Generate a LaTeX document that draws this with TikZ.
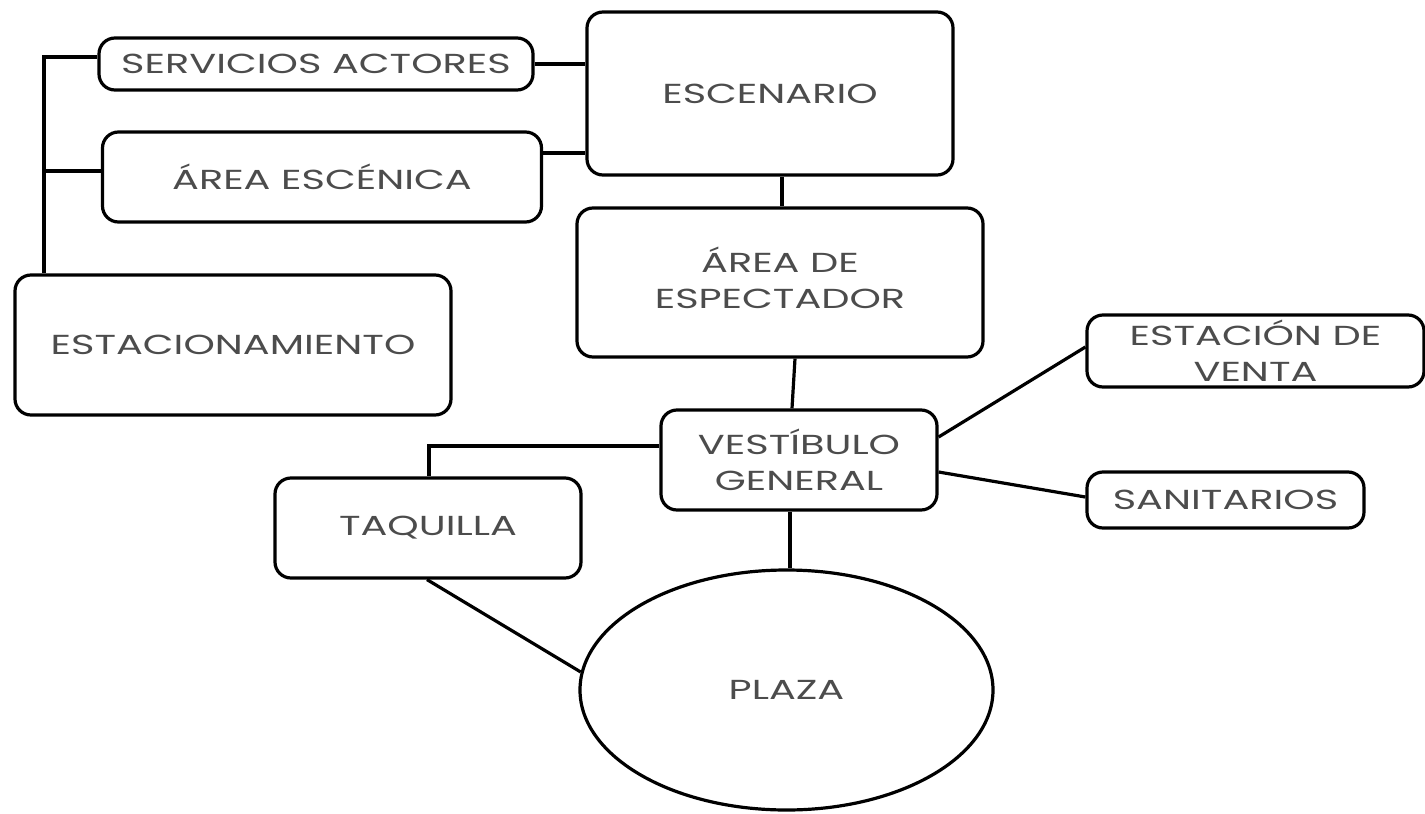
\documentclass[tikz,border=0pt]{standalone}
\usepackage{fontspec}
\setmainfont{Poppins}[FakeStretch=1.45]
\usetikzlibrary{shapes.geometric}
\tikzset{
  box/.style={draw, line width=3.2pt, rounded corners=16pt, align=center, inner sep=0pt, text=black!70, font=\fontsize{27.5}{36}\selectfont},
  link/.style={line width=3.2pt},
}
\begin{document}
\begin{tikzpicture}[x=1pt,y=-1pt]
\useasboundingbox (0,0) rectangle (1425,814);
\node[box, minimum width=434pt, minimum height=52pt] (serv) at (316,64) {SERVICIOS ACTORES};
\node[box, minimum width=439pt, minimum height=90pt] (aesc) at (322,177) {ÁREA ESCÉNICA};
\node[box, minimum width=366pt, minimum height=163pt] (esc) at (770,93.5) {ESCENARIO};
\node[box, minimum width=436pt, minimum height=140pt] (estac) at (233,345) {ESTACIONAMIENTO};
\node[box, minimum width=406pt, minimum height=149pt] (aesp) at (780,282.5) {ÁREA DE\\ESPECTADOR\\[-26pt]\mbox{}};
\node[box, minimum width=276pt, minimum height=100pt] (vest) at (799,460) {VESTÍBULO\\GENERAL};
\node[box, minimum width=337pt, minimum height=72pt] (venta) at (1255.5,351) {ESTACIÓN DE\\VENTA};
\node[box, minimum width=277pt, minimum height=56pt] (sanit) at (1225.5,500) {SANITARIOS};
\node[box, minimum width=306pt, minimum height=100pt] (taq) at (428,528) {TAQUILLA};
\node[box, ellipse, rounded corners=0pt, minimum width=413pt, minimum height=240pt] (plaza) at (786.5,690) {PLAZA};
% left trunk
\coordinate (t1) at ([yshift=7pt]serv.west);
\coordinate (tk) at (44,57);
\coordinate (a1) at ([yshift=6pt]aesc.west);
\draw[link] (t1) -- (tk) -- (tk |- estac.north);
\draw[link] (a1) -- (a1 -| tk);
% to escenario
\draw[link] (serv.east) -- (serv.east -| esc.west);
\coordinate (a3) at ([yshift=24pt]aesc.east);
\draw[link] (a3) -- (a3 -| esc.west);
\draw[link] ([xshift=12pt]esc.south) -- ([xshift=2pt]aesp.north);
\draw[link] ([xshift=15pt]aesp.south) -- ([xshift=-7pt]vest.north);
% vestibulo
\coordinate (t4) at ([yshift=14pt]vest.west);
\coordinate (t5) at (429,446);
\draw[link] (t4) -- (t5) -- (t5 |- taq.north);
\draw[link] ([yshift=23pt]vest.east) -- ([yshift=4pt]venta.west);
\draw[link] ([yshift=-12pt]vest.east) -- ([yshift=3pt]sanit.west);
\draw[link] ([xshift=-9pt]vest.south) -- ([xshift=3.5pt]plaza.north);
\draw[link] ([xshift=-1pt]taq.south) -- (plaza.175);
\end{tikzpicture}
\end{document}
